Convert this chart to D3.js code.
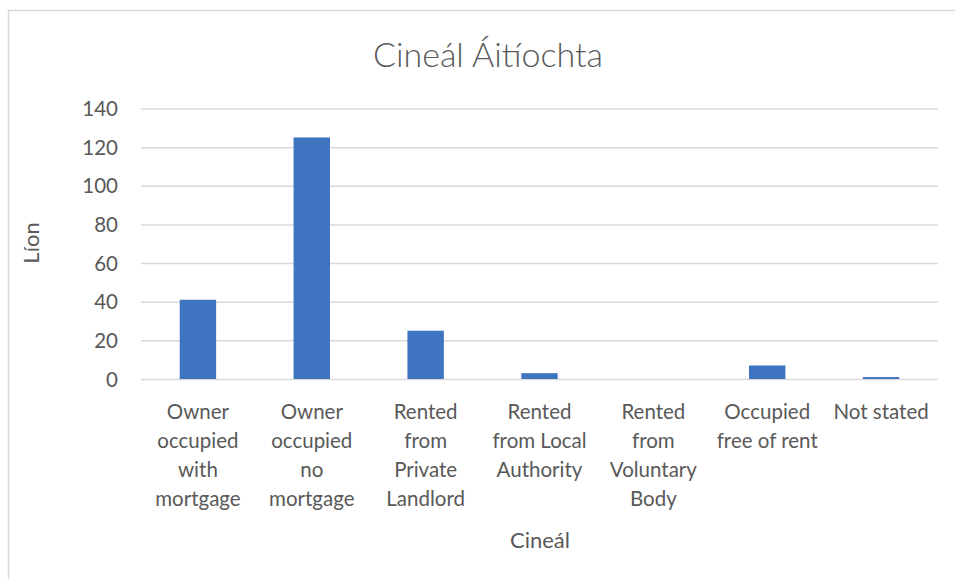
<!DOCTYPE html>
<html>
<head>
<meta charset="utf-8">
<script src="https://cdn.jsdelivr.net/npm/d3@7"></script>
<style>
  body { margin: 0; background: #fff; }
  text { font-family: Lato, "Open Sans", sans-serif; fill: #595959; }
  .axis .domain { display: none; }
  .axis line { stroke: #d9d9d9; stroke-width: 1.5; }
</style>
</head>
<body>
<div id="chart"></div>
<script>
// data
var categories = [
  "Owner\noccupied\nwith\nmortgage",
  "Owner\noccupied\nno\nmortgage",
  "Rented\nfrom\nPrivate\nLandlord",
  "Rented\nfrom Local\nAuthority",
  "Rented\nfrom\nVoluntary\nBody",
  "Occupied\nfree of rent",
  "Not stated"
];
var counts = [41, 125, 25, 3, 0, 7, 1];
var yTicks = [0, 20, 40, 60, 80, 100, 120, 140];

var fullWidth = 955, fullHeight = 579;
var margin = {top: 108.5, right: 17, bottom: 200, left: 141};
var width = fullWidth - margin.left - margin.right,
    height = 379 - margin.top;

var svg = d3.select("#chart").append("svg")
  .attr("width", fullWidth)
  .attr("height", fullHeight);

// chart area border (cropped at right and bottom)
svg.append("rect")
  .attr("x", 8.5).attr("y", 10.5)
  .attr("width", fullWidth + 20).attr("height", fullHeight + 20)
  .attr("fill", "none")
  .attr("stroke", "#d9d9d9")
  .attr("stroke-width", 1.5);

// title
svg.append("text")
  .attr("x", 488).attr("y", 67)
  .attr("text-anchor", "middle")
  .style("font-size", "34px")
  .style("font-weight", 300)
  .text("Cineál Áitíochta");

var g = svg.append("g")
  .attr("transform", "translate(" + margin.left + "," + margin.top + ")");

var x = d3.scaleBand()
  .domain(categories)
  .range([0, width])
  .paddingInner(0.68)
  .paddingOuter(0.34);

var y = d3.scaleLinear()
  .domain([0, 140])
  .range([height, 0]);

// y axis + gridlines
var yAxis = g.append("g")
  .attr("class", "axis")
  .call(d3.axisLeft(y)
    .tickValues(yTicks)
    .tickSizeInner(-width)
    .tickSizeOuter(0)
    .tickPadding(23));

yAxis.selectAll("text")
  .style("font-size", "20.5px")
  .attr("dy", "0.35em");

// bars
g.selectAll(".bar")
  .data(counts)
  .enter()
  .append("rect")
  .attr("class", "bar")
  .attr("x", function(d, i) { return x(categories[i]); })
  .attr("width", x.bandwidth())
  .attr("y", function(d) { return y(d); })
  .attr("height", function(d) { return height - y(d); })
  .attr("fill", "#3f74c0");

// category labels, one tspan per line
var labels = g.selectAll(".catlabel")
  .data(categories)
  .enter()
  .append("text")
  .attr("class", "catlabel")
  .attr("text-anchor", "middle")
  .attr("x", function(d) { return x(d) + x.bandwidth() / 2; })
  .attr("y", height + 40)
  .style("font-size", "20.5px");

labels.each(function(d) {
  var t = d3.select(this);
  d.split("\n").forEach(function(line, j) {
    t.append("tspan")
      .attr("x", x(d) + x.bandwidth() / 2)
      .attr("dy", j === 0 ? 0 : 29)
      .text(line);
  });
});

// axis titles
svg.append("text")
  .attr("transform", "translate(39,243) rotate(-90)")
  .attr("text-anchor", "middle")
  .style("font-size", "22px")
  .text("Líon");

svg.append("text")
  .attr("x", 540).attr("y", 548)
  .attr("text-anchor", "middle")
  .style("font-size", "22px")
  .text("Cineál");
</script>
</body>
</html>
